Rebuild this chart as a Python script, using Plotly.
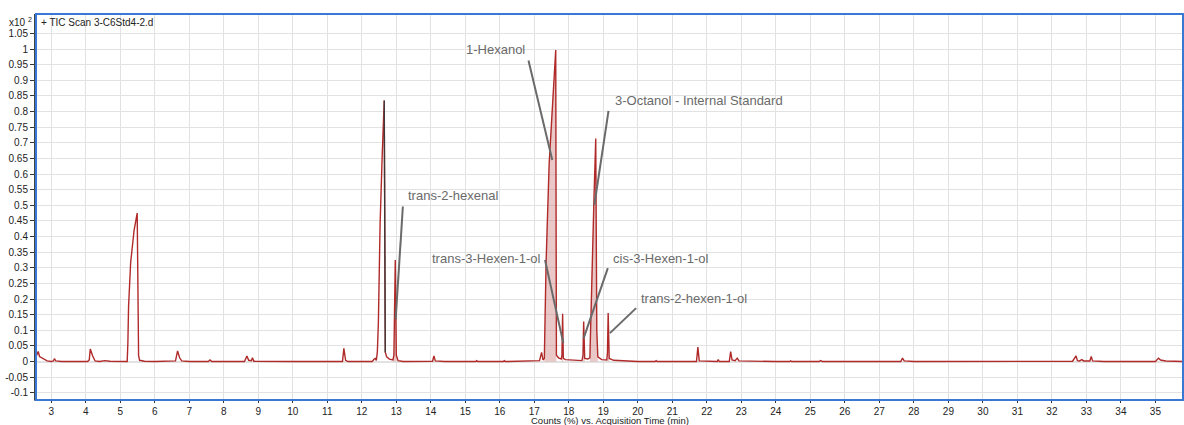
import plotly.graph_objects as go

# ---- data (time in min, counts x10^2 %) ----
time = [2.58, 2.62, 2.66, 2.72, 2.78, 2.88, 3.00, 3.06, 3.09, 3.13, 3.30, 3.60,
        4.05, 4.10, 4.13, 4.20, 4.27, 4.40, 4.55, 4.70, 5.00, 5.20,
        5.22, 5.24, 5.30, 5.40, 5.49, 5.51, 5.53, 5.56, 5.70, 6.00, 6.40,
        6.60, 6.66, 6.72, 6.78, 7.00, 7.55, 7.60, 7.65, 8.60, 8.67, 8.72,
        8.80, 8.83, 8.87, 9.50, 10.0, 11.0, 11.44, 11.48, 11.53, 11.60,
        12.30, 12.36, 12.39, 12.42, 12.45, 12.48, 12.53, 12.59, 12.65,
        12.68, 12.72, 12.80, 12.90, 12.93, 12.97, 13.00, 13.05, 13.20,
        14.00, 14.05, 14.09, 14.13, 14.40, 15.30, 15.33, 15.36, 16.10, 16.13,
        16.16, 17.15, 17.21, 17.25, 17.29, 17.34, 17.43, 17.53, 17.62,
        17.64, 17.70, 17.78, 17.80, 17.82, 17.84, 17.90, 18.10, 18.38,
        18.41, 18.43, 18.46, 18.55, 18.61, 18.67, 18.73, 18.78, 18.81,
        18.84, 18.95, 19.10, 19.12, 19.14, 19.17, 19.30, 19.60, 20.00,
        20.50, 20.53, 20.56, 21.00, 21.70, 21.74, 21.78, 22.30, 22.33,
        22.36, 22.65, 22.69, 22.73, 22.82, 22.88, 22.93, 23.50, 24.00,
        24.40, 24.43, 24.46, 25.25, 25.30, 25.35, 26.00, 27.62, 27.67,
        27.72, 28.00, 29.15, 29.20, 29.25, 30.00, 32.00, 32.60, 32.70,
        32.74, 32.80, 32.87, 32.92, 33.10, 33.14, 33.18, 33.50, 35.00,
        35.09, 35.15, 35.30, 35.80]
counts = [0.020, 0.032, 0.016, 0.012, 0.010, 0.002, 0.000, 0.002, 0.009, 0.002, 0.000, 0.000,
          0.000, 0.005, 0.040, 0.018, 0.002, 0.000, 0.003, 0.001, 0.000, 0.000,
          0.060, 0.176, 0.316, 0.420, 0.475, 0.200, 0.020, 0.004, 0.001, 0.000, 0.000,
          0.002, 0.034, 0.012, 0.002, 0.000, 0.000, 0.005, 0.000, 0.000, 0.018, 0.004,
          0.003, 0.012, 0.001, 0.000, 0.000, 0.000, 0.000, 0.042, 0.004, 0.000,
          0.000, 0.008, 0.010, 0.004, 0.030, 0.124, 0.440, 0.656, 0.835,
          0.030, 0.015, 0.008, 0.005, 0.020, 0.325, 0.020, 0.003, 0.000,
          0.000, 0.001, 0.018, 0.002, 0.000, 0.000, 0.003, 0.000, 0.000, 0.003,
          0.000, 0.003, 0.029, 0.005, 0.010, 0.315, 0.634, 0.847, 0.997,
          0.020, 0.012, 0.008, 0.020, 0.153, 0.010, 0.006, 0.004, 0.003,
          0.020, 0.128, 0.010, 0.008, 0.012, 0.315, 0.528, 0.714, 0.100,
          0.015, 0.006, 0.005, 0.030, 0.155, 0.010, 0.004, 0.002, 0.000,
          0.000, 0.003, 0.000, 0.000, 0.000, 0.046, 0.002, 0.000, 0.006,
          0.000, 0.000, 0.032, 0.005, 0.003, 0.011, 0.002, 0.000, 0.000,
          0.000, 0.002, 0.000, 0.000, 0.003, 0.000, 0.000, 0.000, 0.011,
          0.002, 0.000, 0.000, 0.002, 0.000, 0.000, 0.000, 0.001, 0.018,
          0.003, 0.002, 0.006, 0.002, 0.002, 0.016, 0.002, 0.000, 0.000,
          0.011, 0.005, 0.002, 0.000]

# integrated peak windows (start, end) in minutes
peak_windows = [(12.90, 13.00), (17.29, 17.64), (17.80, 17.84),
                (18.41, 18.46), (18.61, 18.84), (19.12, 19.17)]

# compound labels: name, text position (t, v), anchor, leader line (t0, v0, t1, v1)
label_names = ["1-Hexanol", "3-Octanol - Internal Standard", "trans-2-hexenal",
               "trans-3-Hexen-1-ol", "cis-3-Hexen-1-ol", "trans-2-hexen-1-ol"]
label_pos = [(15.86, 1.00), (19.28, 0.834), (13.29, 0.531),
             (17.22, 0.331), (19.22, 0.331), (20.03, 0.203)]
label_anchor = ["center", "left", "left", "right", "left", "left"]
leader_lines = [(16.83, 0.963, 17.52, 0.645), (19.15, 0.802, 18.74, 0.501),
                (13.19, 0.496, 12.98, 0.135), (17.31, 0.325, 17.84, 0.059),
                (19.13, 0.299, 18.43, 0.075), (19.95, 0.171, 19.19, 0.091)]

y_ticks = [1.05, 1.0, 0.95, 0.9, 0.85, 0.8, 0.75, 0.7, 0.65, 0.6, 0.55, 0.5, 0.45,
           0.4, 0.35, 0.3, 0.25, 0.2, 0.15, 0.1, 0.05, 0.0, -0.05, -0.1]
y_tick_text = ["1.05", "1", "0.95", "0.9", "0.85", "0.8", "0.75", "0.7", "0.65", "0.6",
               "0.55", "0.5", "0.45", "0.4", "0.35", "0.3", "0.25", "0.2", "0.15",
               "0.1", "0.05", "0", "-0.05", "-0.1"]
x_ticks = list(range(3, 36))

RED = "#b02a2a"
FONT = "Liberation Sans, Arial, sans-serif"

fig = go.Figure()

# filled integrated peaks
for (a, b) in peak_windows:
    xs = [t for t in time if a <= t <= b]
    ys = [c for t, c in zip(time, counts) if a <= t <= b]
    fig.add_trace(go.Scatter(x=[xs[0]] + xs + [xs[-1]], y=[0] + ys + [0],
                             mode="lines", fill="toself",
                             fillcolor="rgba(200,110,110,0.38)",
                             line=dict(width=0), hoverinfo="skip", showlegend=False))

fig.add_trace(go.Scatter(x=time, y=counts, mode="lines",
                         line=dict(color=RED, width=1.4), showlegend=False))

# dark integration drop line of the 12.65 min peak
i0 = time.index(12.65)
fig.add_trace(go.Scatter(x=time[i0:i0 + 2], y=counts[i0:i0 + 2], mode="lines",
                         line=dict(color="#3a3a3a", width=1.3), showlegend=False))

shapes = []
for (t0, v0, t1, v1) in leader_lines:
    shapes.append(dict(type="line", xref="x", yref="y", x0=t0, y0=v0, x1=t1, y1=v1,
                       line=dict(color="#6a6a6a", width=2)))
shapes.append(dict(type="rect", xref="paper", yref="paper", x0=0, y0=0, x1=1, y1=1,
                   line=dict(color="#3a78d6", width=2)))

annotations = []
for name, (t, v), anc in zip(label_names, label_pos, label_anchor):
    annotations.append(dict(x=t, y=v, xref="x", yref="y", text=name, showarrow=False,
                            xanchor=anc, yanchor="middle",
                            font=dict(family=FONT, size=13, color="#6a6a6a")))
annotations.append(dict(x=0.0025, y=0.979, xref="paper", yref="paper",
                        text="+ TIC Scan 3-C6Std4-2.d", showarrow=False,
                        xanchor="left", yanchor="middle",
                        font=dict(family=FONT, size=10, color="#222")))
annotations.append(dict(x=-0.002, y=0.979, xref="paper", yref="paper",
                        text="x10 <sup>2</sup>", showarrow=False,
                        xanchor="right", yanchor="middle",
                        font=dict(family=FONT, size=10, color="#222")))
annotations.append(dict(x=0.5, y=-0.052, xref="paper", yref="paper",
                        text="Counts (%) vs. Acquisition Time (min)", showarrow=False,
                        xanchor="center", yanchor="middle",
                        font=dict(family=FONT, size=9.5, color="#222")))

fig.update_layout(
    width=1184, height=425,
    margin=dict(l=36, r=1, t=14, b=25, autoexpand=False),
    paper_bgcolor="white", plot_bgcolor="white",
    font=dict(family=FONT, size=10, color="#222"),
    shapes=shapes, annotations=annotations,
    xaxis=dict(range=[2.557, 35.8], tickvals=x_ticks, ticks="outside", ticklen=2,
               tickcolor="#333", showgrid=True, gridcolor="#e2e2e2", gridwidth=1,
               zeroline=False, showline=True, linecolor="#8a8a8a", linewidth=1,
               tickfont=dict(size=10), automargin=False),
    yaxis=dict(range=[-0.123, 1.112], tickvals=y_ticks, ticktext=y_tick_text,
               ticks="outside", ticklen=4, tickcolor="#333", showgrid=True,
               gridcolor="#e2e2e2", gridwidth=1, zeroline=True, zerolinecolor="#e2e2e2",
               zerolinewidth=2, showline=True, linecolor="#444", linewidth=2,
               tickfont=dict(size=10), automargin=False),
)

fig.write_html("out.html", config={"displayModeBar": False},
               post_script="document.body.style.margin='0';document.body.style.overflow='hidden';")
